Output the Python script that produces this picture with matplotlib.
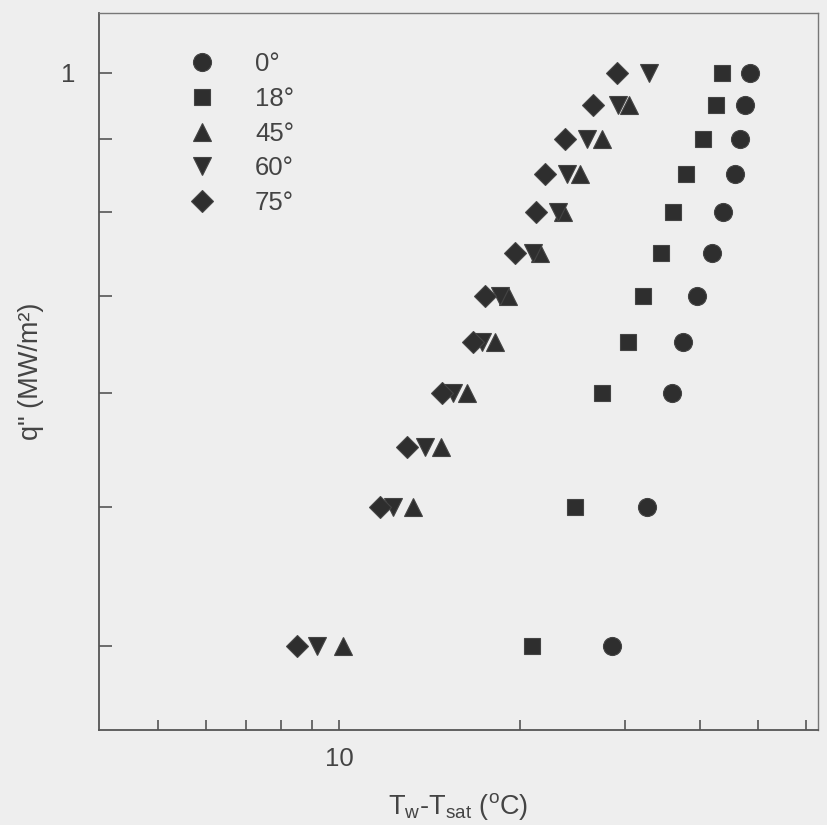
import matplotlib
matplotlib.use("Agg")
import matplotlib.pyplot as plt
import matplotlib.ticker as ticker

# wall superheat (C) vs heat flux q'' (MW/m2)
q_0   = [0.40, 0.50, 0.60, 0.65, 0.70, 0.75, 0.80, 0.85, 0.90, 0.95, 1.00]
dT_0  = [28.5, 32.6, 35.9, 37.4, 39.6, 41.8, 43.6, 45.7, 46.6, 47.5, 48.4]
q_18  = [0.40, 0.50, 0.60, 0.65, 0.70, 0.75, 0.80, 0.85, 0.90, 0.95, 1.00]
dT_18 = [21.0, 24.7, 27.4, 30.3, 32.1, 34.4, 36.0, 37.9, 40.4, 42.5, 43.5]
q_45  = [0.40, 0.50, 0.55, 0.60, 0.65, 0.70, 0.75, 0.80, 0.85, 0.90, 0.95]
dT_45 = [10.15, 13.3, 14.8, 16.35, 18.2, 19.1, 21.6, 23.6, 25.2, 27.4, 30.5]
q_60  = [0.40, 0.50, 0.55, 0.60, 0.65, 0.70, 0.75, 0.80, 0.85, 0.90, 0.95, 1.00]
dT_60 = [9.2, 12.3, 13.9, 15.5, 17.3, 18.55, 21.1, 23.2, 24.0, 25.9, 29.2, 32.9]
q_75  = [0.40, 0.50, 0.55, 0.60, 0.65, 0.70, 0.75, 0.80, 0.85, 0.90, 0.95, 1.00]
dT_75 = [8.5, 11.7, 13.0, 14.85, 16.7, 17.5, 19.65, 21.3, 22.05, 23.8, 26.5, 29.1]

BG   = "#eeeeee"
INK  = "#2e2e2e"
AXC  = "#555555"
TXT  = "#444444"
FS   = 18.5

plt.rcParams.update({
    "font.family": ["Liberation Sans", "DejaVu Sans"],
    "mathtext.fontset": "custom",
    "mathtext.rm": "Liberation Sans",
    "mathtext.it": "Liberation Sans:italic",
    "mathtext.bf": "Liberation Sans:bold",
})

fig = plt.figure(figsize=(8.27, 8.25), dpi=100, facecolor=BG)
ax = fig.add_axes([99 / 827, 95 / 825, 719 / 827, 717 / 825])
ax.set_facecolor(BG)

series = [
    (dT_0,  q_0,  "o", 13.0, "0°"),
    (dT_18, q_18, "s", 12.0, "18°"),
    (dT_45, q_45, "^", 12.5, "45°"),
    (dT_60, q_60, "v", 12.5, "60°"),
    (dT_75, q_75, "D", 11.0, "75°"),
]
for x, y, m, ms, lab in series:
    ax.plot(x, y, linestyle="none", marker=m, markersize=ms, color=INK,
            markeredgecolor="#444444", markeredgewidth=0.8, label=lab)

ax.set_xscale("log")
ax.set_yscale("log")
ax.set_xlim(3.98, 62.9)
ax.set_ylim(0.35, 1.10)

ax.xaxis.set_major_locator(ticker.FixedLocator([10]))
ax.xaxis.set_minor_locator(ticker.FixedLocator([5, 6, 7, 8, 9, 20, 30, 40, 50, 60]))
ax.xaxis.set_major_formatter(ticker.FixedFormatter(["10"]))
ax.xaxis.set_minor_formatter(ticker.NullFormatter())
ax.yaxis.set_major_locator(ticker.FixedLocator([1]))
ax.yaxis.set_minor_locator(ticker.FixedLocator([0.4, 0.5, 0.6, 0.7, 0.8, 0.9]))
ax.yaxis.set_major_formatter(ticker.FixedFormatter(["1"]))
ax.yaxis.set_minor_formatter(ticker.NullFormatter())

ax.tick_params(axis="x", which="both", direction="in", length=7, width=1.2,
               color=AXC, labelsize=FS, labelcolor=TXT, pad=12)
ax.tick_params(axis="y", which="both", direction="in", length=9, width=1.2,
               color=AXC, labelsize=FS, labelcolor=TXT, pad=17)
for s in ax.spines.values():
    s.set_color(AXC)
    s.set_linewidth(1.3)
ax.spines["top"].set_color("#777777")
ax.spines["right"].set_color("#777777")
ax.spines["top"].set_linewidth(1.0)
ax.spines["right"].set_linewidth(1.0)

ax.set_xlabel(r"T$_\mathrm{w}$-T$_\mathrm{sat}$ ($^\mathrm{o}$C)", fontsize=19.5,
              color=TXT, labelpad=15)
ax.set_ylabel('q" (MW/m²)', fontsize=19.5, color=TXT, labelpad=12)

leg = ax.legend(loc="upper left", bbox_to_anchor=(0.111, 0.960), frameon=False,
                fontsize=FS, labelspacing=0.42, handlelength=1.0,
                handletextpad=1.57, borderaxespad=0)
for t in leg.get_texts():
    t.set_color(TXT)

fig.savefig("out.png", dpi=100, facecolor=BG)
